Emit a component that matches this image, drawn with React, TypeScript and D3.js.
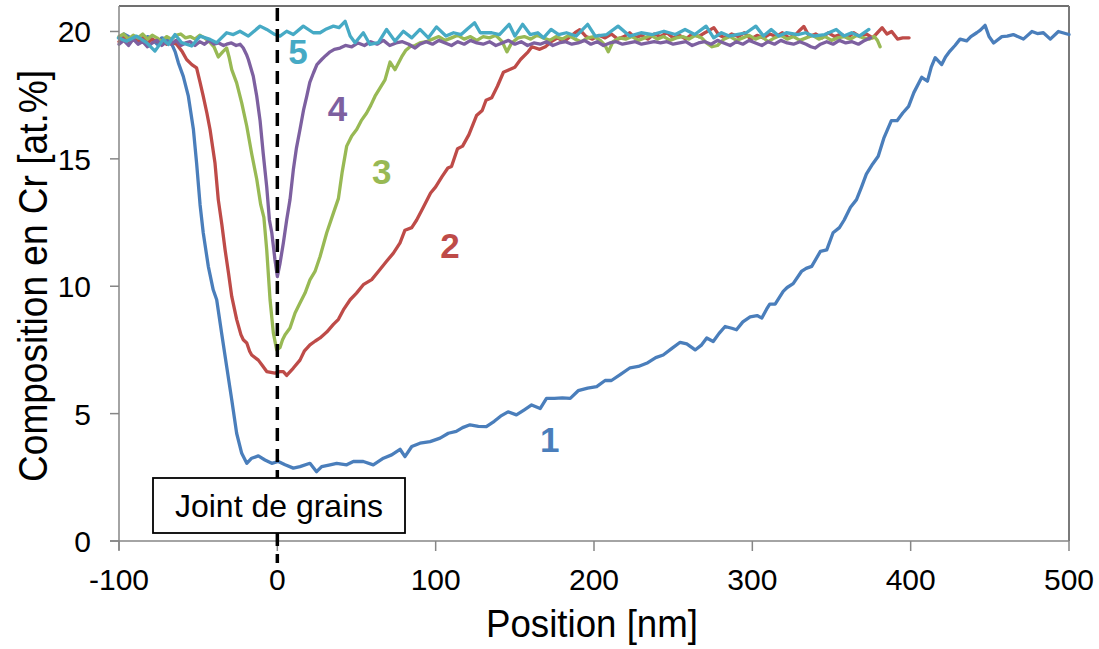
import React from "react";
import * as d3 from "d3";

type P = [number, number];

const xTicks = [-100, 0, 100, 200, 300, 400, 500];
const yTicks = [0, 5, 10, 15, 20];
const seriesNames = ["1", "2", "3", "4", "5"];
const seriesColors = ["#4A7EBB", "#BE4B48", "#98B954", "#7D60A0", "#46AAC5"];

const s1: P[] = [
  [-100,19.75],[-97,19.9],[-94,19.8],[-91,19.65],[-88,19.75],[-85,19.6],[-82,19.8],[-79,19.7],[-76,19.5],[-73,19.75],[-70,19.7],[-67,19.55],
  [-64.5,19.2],[-62.5,18.77],[-59.4,18.24],[-56.2,17.46],[-53,16.15],[-51,14.84],[-48.8,13.2],[-46.8,12.1],[-43.6,10.78],[-40.5,9.86],
  [-38.3,9.47],[-35.2,8.16],[-32,6.85],[-28.8,5.54],[-25.7,4.23],[-22.5,3.44],[-19.3,3.05],[-16.2,3.25],[-12,3.34],[-7.8,3.18],[-3.5,3.05],
  [0.6,3.12],[4.9,2.99],[10.1,2.86],[14.3,2.92],[20.6,3.05],[24.8,2.72],[28,2.92],[33.3,2.99],[37.5,3.05],[43.8,2.99],[48,3.12],[54.3,3.12],
  [60.6,2.99],[67,3.25],[72.2,3.38],[77.5,3.6],[80.6,3.31],[84.9,3.71],[90.1,3.84],[96.5,3.9],[102.8,4.04],[108,4.23],[113,4.3],[117,4.45],
  [121.7,4.56],[127,4.5],[132,4.49],[137,4.7],[141,4.9],[145.7,5.07],[151,4.95],[156,5.15],[160.6,5.34],[166,5.2],[170,5.6],[175,5.6],
  [180,5.62],[185,5.6],[190,5.9],[196,6.0],[201.7,6.06],[207,6.3],[211,6.3],[217,6.55],[222.8,6.8],[228,6.85],[234,7.0],[239,7.2],
  [243.7,7.3],[249,7.55],[254.4,7.8],[258.6,7.74],[263.9,7.5],[268,7.7],[271.2,7.97],[275.3,7.83],[279,8.15],[282.8,8.42],[287,8.35],
  [290,8.29],[294,8.6],[298.6,8.8],[303,8.85],[306,8.75],[309,9.1],[311,9.3],[314.4,9.3],[319.5,9.8],[322,9.95],[325.8,10.1],[331,10.58],
  [334,10.7],[337.5,10.78],[343,11.37],[347,11.43],[351,12.1],[355,12.3],[358,12.6],[362,13.1],[365.8,13.4],[369,13.9],[372,14.4],
  [376,14.8],[379.5,15.1],[383,15.8],[387.8,16.5],[391.4,16.5],[395,16.8],[398.7,17.06],[402,17.6],[407,18.2],[410.6,18.05],[413,18.6],
  [415.5,18.97],[419.6,18.7],[422,19.0],[424.8,19.23],[428,19.45],[431.2,19.7],[435.4,19.63],[438,19.8],[441.7,19.95],[444,20.05],
  [447,20.24],[449.5,19.8],[452.4,19.55],[457.6,19.8],[461,19.82],[464.8,19.88],[471.2,19.7],[476.6,20.0],[480,19.92],[483.8,19.95],
  [488.2,19.7],[493.3,20.0],[496,19.95],[500,19.88]
];

const s2: P[] = [
  [-100,19.6],[-97,19.75],[-94,19.55],[-91,19.7],[-88,19.6],[-85,19.75],[-82,19.55],[-79,19.7],[-76,19.6],[-73,19.65],[-70,19.5],[-67,19.6],
  [-63.6,19.5],[-60,19.2],[-57.3,18.9],[-54,18.7],[-51,18.57],[-48.8,18.0],[-46.8,17.46],[-44.5,16.8],[-42.5,16.15],[-39.4,14.85],
  [-37.3,13.4],[-35,12.4],[-33,11.43],[-30.8,10.5],[-28.8,9.6],[-25.7,8.7],[-23,8.1],[-21.5,7.9],[-19.3,7.77],[-17.5,7.45],[-16.2,7.3],
  [-12,7.1],[-9,6.85],[-6.7,6.65],[-1.5,6.59],[1.5,6.65],[3.8,6.65],[5.9,6.5],[10,6.78],[14.3,7.1],[17,7.45],[20.6,7.7],[24,7.85],
  [27,7.97],[31.2,8.2],[35.4,8.5],[38.6,8.7],[41.7,9.07],[46,9.47],[50,9.73],[54.3,10.06],[59.6,10.26],[63.8,10.58],[69,10.98],
  [73.3,11.3],[77.5,11.7],[80.6,12.2],[84.9,12.3],[88,12.6],[92.2,13.1],[96.8,13.66],[100,13.9],[104,14.3],[107.7,14.64],[110,14.7],
  [113.8,15.4],[117,15.5],[121,15.95],[125.8,16.7],[129.4,16.9],[131.8,17.3],[135.4,17.4],[139,17.85],[142.8,18.4],[146.4,18.5],
  [150,18.6],[153.6,18.9],[158.4,19.2],[160.8,19.4],[165.7,19.3],[169.3,19.4],[173,19.6],[177,19.75],[181,19.6],[185,19.8],[188,19.95],
  [191,20.07],[195,19.8],[199,19.7],[203,19.85],[207,19.75],[211,19.9],[215,19.7],[219,19.8],[222.5,19.95],[226,19.75],[230,19.85],
  [234,19.7],[238,19.9],[242,19.8],[246,19.95],[250,19.75],[254,19.85],[258,19.7],[262,19.9],[266,19.8],[270,19.95],[273,20.05],
  [275.7,20.15],[279,19.85],[283,19.75],[287,19.9],[291,19.8],[295,19.95],[299,19.7],[303,19.85],[307,19.75],[311,19.9],[315,19.8],
  [319,19.95],[323,19.75],[327,19.85],[330,20.05],[332.5,20.2],[336,19.8],[340,19.9],[344,19.75],[348,19.95],[352,19.8],[356,19.9],
  [360,19.75],[364,19.95],[368,19.8],[372,19.9],[376,19.75],[379,19.95],[382,20.15],[385,19.9],[388,20.0],[391.7,19.7],[395,19.75],
  [399,19.75]
];

const s3: P[] = [
  [-100,19.8],[-97,19.9],[-94,19.7],[-91,19.85],[-88,19.75],[-85,19.9],[-82,19.7],[-79,19.85],[-76,19.75],[-73,19.6],[-70,19.8],[-67,19.7],
  [-64,19.85],[-61,19.9],[-58,19.75],[-55,19.8],[-52,19.7],[-49,19.85],[-46,19.75],[-43,19.6],[-40,19.4],[-37.3,19.0],[-34.5,19.2],
  [-32,19.35],[-30.5,19.0],[-28.8,18.5],[-25.7,17.98],[-22.5,17.2],[-19.3,16.28],[-16.2,15.2],[-13,14.2],[-10.5,13.2],[-8.5,12.7],
  [-6.7,11.43],[-4.6,9.47],[-2.5,8.16],[-0.4,7.5],[1.7,7.6],[3.3,7.9],[4.9,8.1],[8,8.36],[11.2,8.95],[14.3,9.34],[17.5,9.73],[20.6,10.25],
  [23.8,10.58],[27,11.17],[31.2,12.1],[35.4,12.87],[38.6,13.45],[41,14.5],[43.8,15.5],[47,15.9],[50.1,16.15],[53,16.5],[56.4,16.8],
  [59,17.1],[61.7,17.46],[65,17.8],[68,18.1],[71.2,18.8],[74.3,18.5],[78.5,19.0],[81,19.25],[83.8,19.4],[87,19.45],[90,19.55],[94,19.6],
  [98,19.7],[102,19.8],[106,19.65],[110,19.75],[114,19.85],[118,19.7],[122,19.8],[126,19.65],[130,19.8],[134,19.75],[138,19.85],[142,19.6],
  [145,19.2],[148,19.55],[152,19.75],[156,19.8],[160,19.7],[164,19.85],[168,19.75],[172,19.65],[176,19.8],[180,19.7],[184,19.85],
  [188,19.7],[192,19.6],[196,19.75],[200,19.8],[204,19.65],[207,19.45],[209,19.2],[212,19.6],[216,19.75],[220,19.7],[224,19.8],[228,19.65],
  [232,19.75],[236,19.85],[240,19.7],[244,19.8],[248,19.65],[252,19.75],[256,19.8],[260,19.7],[264,19.85],[268,19.75],[271,19.55],
  [274.6,19.4],[278,19.45],[282,19.7],[286,19.8],[290,19.65],[294,19.75],[298,19.85],[302,19.7],[306,19.8],[310,19.6],[314,19.75],
  [318,19.85],[322,19.7],[326,19.8],[330,19.65],[334,19.75],[338,19.85],[342,19.7],[346,19.8],[350,19.65],[354,19.75],[358,19.8],
  [362,19.7],[366,19.85],[370,19.75],[374,19.7],[377,19.8],[379,19.65],[380.7,19.4]
];

const s4: P[] = [
  [-100,19.5],[-97,19.65],[-94,19.45],[-91,19.7],[-88,19.5],[-85,19.6],[-82,19.4],[-79,19.55],[-76,19.65],[-73,19.45],[-70,19.6],[-67,19.5],
  [-64,19.65],[-61,19.45],[-58,19.55],[-55,19.6],[-52,19.45],[-49,19.6],[-46,19.5],[-43,19.65],[-40,19.5],[-37,19.55],[-34,19.45],
  [-32,19.5],[-29,19.55],[-26,19.45],[-23.5,19.5],[-21.5,19.35],[-19.5,19.1],[-18.3,18.9],[-15.2,18.24],[-13,17.46],[-10.9,16.5],
  [-8.9,15.2],[-6.7,13.9],[-5.0,12.6],[-3.5,12.1],[-1.5,11.04],[0,10.38],[1.7,10.9],[3.8,11.7],[5.9,12.6],[8,13.4],[10.1,14.57],
  [12,15.4],[14.3,16.15],[16.5,16.9],[18.6,17.46],[20.5,18.0],[22.8,18.37],[25,18.7],[28,18.9],[30.5,19.05],[33.3,19.2],[36,19.3],
  [39.6,19.35],[43,19.45],[47,19.4],[51,19.55],[55,19.45],[59,19.6],[63,19.5],[67,19.65],[71,19.45],[75,19.55],[79,19.6],[83,19.5],
  [87,19.35],[90,19.5],[94,19.6],[98,19.5],[102,19.65],[106,19.55],[110,19.45],[114,19.6],[118,19.5],[122,19.65],[126,19.55],[130,19.5],
  [134,19.6],[138,19.45],[142,19.55],[146,19.65],[150,19.5],[154,19.6],[158,19.45],[162,19.55],[166,19.5],[170,19.6],[174,19.45],
  [178,19.55],[182,19.6],[186,19.5],[190,19.55],[194,19.65],[198,19.5],[202,19.6],[206,19.45],[210,19.55],[214,19.6],[218,19.5],
  [222,19.55],[226,19.6],[230,19.5],[234,19.55],[238,19.6],[242,19.55],[246,19.6],[250,19.5],[254,19.55],[258,19.6],[262,19.45],
  [266,19.55],[270,19.6],[274,19.5],[278,19.65],[282,19.55],[286,19.45],[290,19.6],[294,19.5],[298,19.65],[302,19.55],[306,19.45],
  [310,19.6],[314,19.5],[318,19.65],[322,19.55],[326,19.5],[330,19.6],[334,19.5],[337,19.4],[339.6,19.35],[343,19.5],[347,19.6],
  [351,19.5],[355,19.65],[359,19.55],[363,19.6],[367,19.5],[371,19.65],[374.8,19.75]
];

const s5: P[] = [
  [-100.4,19.75],[-95.2,19.62],[-88.9,19.82],[-82.6,19.56],[-77.3,19.23],[-72,19.69],[-68.9,19.49],[-64.6,19.88],[-60.4,19.56],
  [-54.1,19.43],[-48.8,19.82],[-42.5,19.69],[-38.3,19.56],[-32,19.95],[-27.8,19.88],[-23.6,20.01],[-18.3,19.82],[-10.9,20.21],
  [-6.7,20.08],[-1.5,19.88],[1.7,19.82],[5.9,20.01],[10.1,19.88],[16.4,20.21],[22.7,19.95],[27,19.95],[31,20.1],[35.4,20.21],
  [39,20.15],[42.8,20.4],[46,19.82],[49.1,19.56],[54.3,19.95],[58.5,19.49],[63.8,19.56],[69,20.08],[74.3,19.62],[79.6,20.01],
  [84.9,19.75],[90.1,20.08],[95.4,19.75],[100.5,20.18],[106.5,19.82],[111.3,19.95],[116.1,19.88],[120,20.1],[124.6,20.34],[128.2,19.95],
  [135.4,19.95],[140.3,19.88],[146.4,20.28],[150,19.82],[154.9,20.28],[159.7,19.88],[164.5,19.95],[168.1,19.75],[172.9,20.08],
  [177.7,19.88],[182.6,19.95],[188.7,19.82],[196,20.28],[200.8,19.82],[208,19.88],[215.2,20.21],[222.5,19.82],[229.7,19.95],
  [237,19.88],[244.2,20.01],[251.4,19.88],[257.5,20.08],[263.6,19.88],[270.8,20.21],[275.6,19.75],[280.5,19.95],[285.3,19.82],
  [290.1,19.88],[296.2,19.95],[302.2,20.21],[307,19.82],[311.9,20.08],[316.7,19.82],[321.5,19.95],[328.8,19.88],[333.6,19.95],
  [338.5,19.82],[345.7,19.88],[353,20.08],[357.8,19.82],[362.7,19.95],[367.5,19.82],[373.6,20.08]
];

const seriesData = [s1, s2, s3, s4, s5];
// label anchor positions in data units (x nm, y at.%)
const labelX = [172, 109, 66, 38, 13];
const labelY = [3.97, 11.6, 14.5, 17.0, 19.2];

const W = 1099, H = 649;
const M = { left: 119, right: 1069, top: 6, bottom: 541 };

export default function App() {
  const x = d3.scaleLinear().domain([-100, 500]).range([M.left, M.right]);
  const y = d3.scaleLinear().domain([0, 21]).range([M.bottom, M.top]);
  const line = d3.line<P>().x(d => x(d[0])).y(d => y(d[1]));
  const font = "Arial, 'Liberation Sans', Helvetica, sans-serif";
  const axisColor = "#868686";

  return (
    <svg width={W} height={H} style={{ position: "absolute", left: 0, top: 0, background: "#fff" }} fontFamily={font}>
      <rect x={0} y={0} width={W} height={H} fill="#fff" />
      {/* plot border */}
      <line x1={M.left} x2={M.right} y1={M.top} y2={M.top} stroke="#404040" strokeWidth={1.5} />
      <line x1={M.right} x2={M.right} y1={M.top} y2={M.bottom} stroke="#7a7a7a" strokeWidth={2} />
      {/* series */}
      {seriesData.map((s, i) => (
        <path key={i} d={line(s) || ""} fill="none" stroke={seriesColors[i]} strokeWidth={3.3} strokeLinejoin="round" strokeLinecap="round" />
      ))}
      {/* axes */}
      <line x1={M.left} x2={M.left} y1={M.top} y2={M.bottom + 9} stroke={axisColor} strokeWidth={1.5} />
      <line x1={M.left - 9} x2={M.right} y1={M.bottom} y2={M.bottom} stroke={axisColor} strokeWidth={1.5} />
      {yTicks.map(t => (
        <g key={"y" + t}>
          <line x1={M.left - 9} x2={M.left} y1={y(t)} y2={y(t)} stroke={axisColor} strokeWidth={1.5} />
          <text x={91} y={y(t) + 11} textAnchor="end" fontSize={30} fill="#000">{t}</text>
        </g>
      ))}
      {xTicks.map(t => (
        <g key={"x" + t}>
          <line x1={x(t)} x2={x(t)} y1={M.bottom} y2={M.bottom + 10} stroke={axisColor} strokeWidth={1.5} />
          <text x={x(t)} y={590} textAnchor="middle" fontSize={30} fill="#000">{t}</text>
        </g>
      ))}
      {/* grain boundary dashed line */}
      <line x1={x(0)} x2={x(0)} y1={8} y2={563} stroke="#000" strokeWidth={3.5} strokeDasharray="13,8" />
      {/* box */}
      <rect x={153} y={478} width={252} height={55} fill="#fff" stroke="#000" strokeWidth={1.8} />
      <text x={279} y={517} textAnchor="middle" fontSize={32} fill="#000">Joint de grains</text>
      {/* series labels */}
      {seriesNames.map((n, i) => (
        <text key={"l" + n} x={x(labelX[i])} y={y(labelY[i])} dy="0.36em" textAnchor="middle" fontSize={35} fontWeight="bold" fill={seriesColors[i]}>{n}</text>
      ))}
      {/* axis titles */}
      <text x={592} y={637} textAnchor="middle" fontSize={38} textLength={212} lengthAdjust="spacingAndGlyphs" fill="#000">Position [nm]</text>
      <text transform="translate(47,276) rotate(-90)" textAnchor="middle" fontSize={40} textLength={412} lengthAdjust="spacingAndGlyphs" fill="#000">Composition en Cr [at.%]</text>
    </svg>
  );
}
